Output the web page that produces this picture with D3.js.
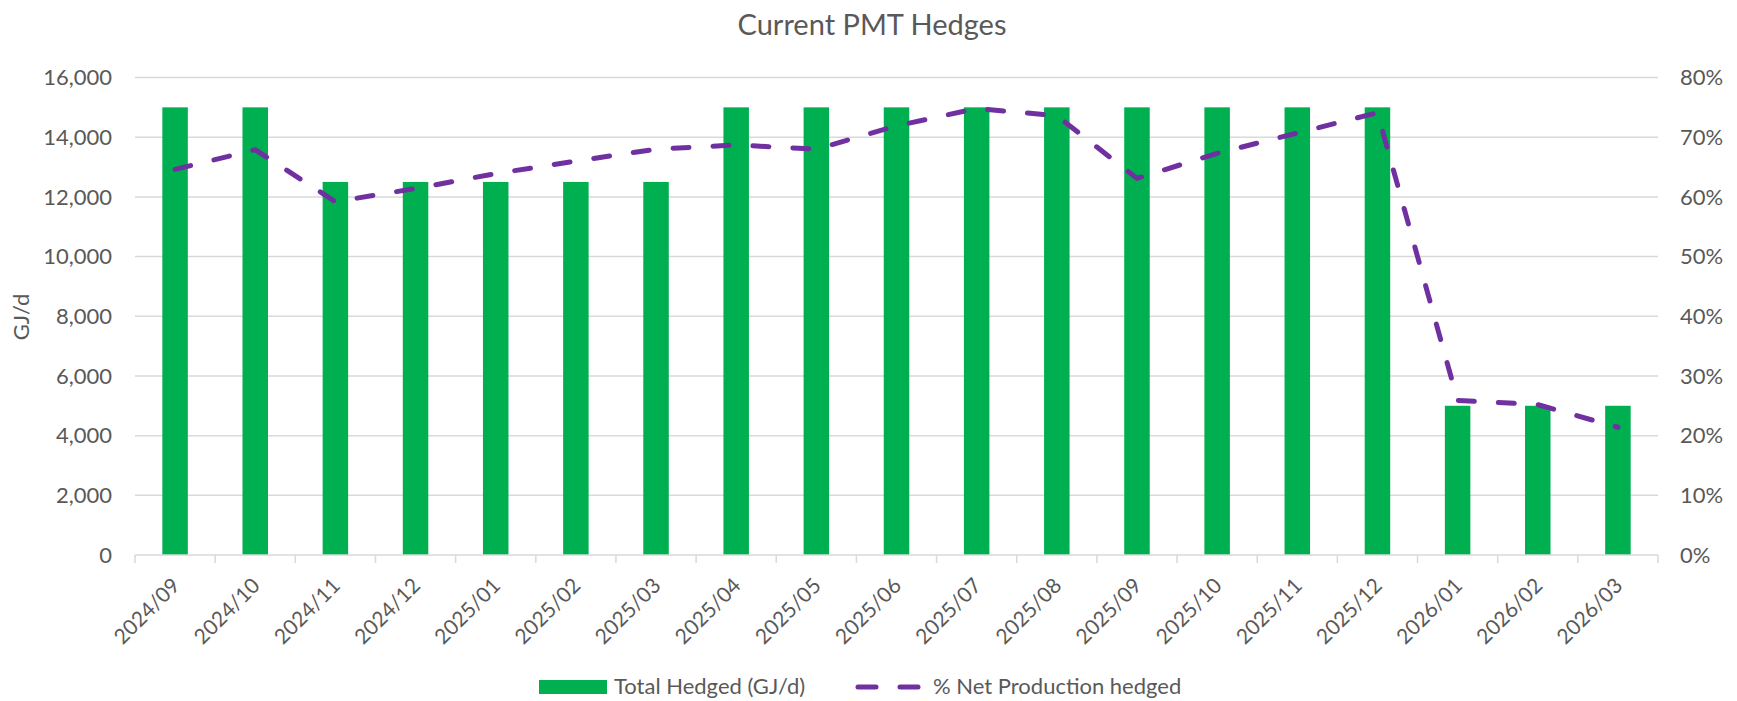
<!DOCTYPE html>
<html>
<head>
<meta charset="utf-8">
<script src="https://cdn.jsdelivr.net/npm/d3@7"></script>
<style>
  body { margin: 0; background: #fff; }
  text { font-family: Lato, "Open Sans", sans-serif; fill: #595959; }
</style>
</head>
<body>
<div id="chart"></div>
<script>
// data
var months = ["2024/09","2024/10","2024/11","2024/12","2025/01","2025/02","2025/03","2025/04","2025/05","2025/06",
              "2025/07","2025/08","2025/09","2025/10","2025/11","2025/12","2026/01","2026/02","2026/03"];
var totalHedged = [15000,15000,12500,12500,12500,12500,12500,15000,15000,15000,15000,15000,15000,15000,15000,15000,5000,5000,5000];
var pctHedged = [64.6,67.9,59.2,61.4,63.9,66.0,68.0,68.7,68.0,71.9,74.8,73.6,63.1,67.3,70.7,74.1,25.9,25.2,21.4];
var leftTicks = [0,2000,4000,6000,8000,10000,12000,14000,16000];
var rightTicks = [0,10,20,30,40,50,60,70,80];

var width = 1737, height = 701;
var plotLeft = 135, plotRight = 1658, plotTop = 77.5, plotBottom = 555;
var barColor = "#00B050", lineColor = "#7030A0", gridColor = "#d9d9d9";

var svg = d3.select("#chart").append("svg")
	.attr("width", width)
	.attr("height", height);

var x = d3.scaleBand().domain(months).range([plotLeft, plotRight]);
var yLeft = d3.scaleLinear().domain([0, 16000]).range([plotBottom, plotTop]);
var yRight = d3.scaleLinear().domain([0, 80]).range([plotBottom, plotTop]);
var barW = 25.5;

// title
svg.append("text")
	.attr("x", 872)
	.attr("y", 35)
	.style("text-anchor", "middle")
	.style("font-size", "29px")
	.text("Current PMT Hedges");

// gridlines
svg.append("g").selectAll("line")
	.data(leftTicks.filter(function(d){ return d > 0; }))
	.enter().append("line")
	.attr("x1", plotLeft).attr("x2", plotRight)
	.attr("y1", function(d){ return yLeft(d); })
	.attr("y2", function(d){ return yLeft(d); })
	.style("stroke", gridColor)
	.style("stroke-width", "1.5px");

// left axis labels
svg.append("g").selectAll("text")
	.data(leftTicks)
	.enter().append("text")
	.attr("x", plotLeft - 23)
	.attr("y", function(d){ return yLeft(d); })
	.attr("dy", "0.35em")
	.style("text-anchor", "end")
	.style("font-size", "22px")
	.text(function(d){ return d3.format(",")(d); });

// right axis labels
svg.append("g").selectAll("text")
	.data(rightTicks)
	.enter().append("text")
	.attr("x", plotRight + 22)
	.attr("y", function(d){ return yRight(d); })
	.attr("dy", "0.35em")
	.style("text-anchor", "start")
	.style("font-size", "22px")
	.text(function(d){ return d + "%"; });

// left axis title
svg.append("text")
	.attr("transform", "translate(" + 29 + "," + 317 + ") rotate(-90)")
	.style("text-anchor", "middle")
	.style("font-size", "22px")
	.text("GJ/d");

// bars
svg.append("g").selectAll("rect")
	.data(months)
	.enter().append("rect")
	.attr("x", function(d){ return x(d) + x.bandwidth()/2 - barW/2; })
	.attr("y", function(d, i){ return yLeft(totalHedged[i]); })
	.attr("width", barW)
	.attr("height", function(d, i){ return yLeft(0) - yLeft(totalHedged[i]); })
	.attr("fill", barColor);

// x axis line + ticks
svg.append("line")
	.attr("x1", plotLeft).attr("x2", plotRight)
	.attr("y1", plotBottom).attr("y2", plotBottom)
	.style("stroke", gridColor)
	.style("stroke-width", "1.5px");

var tickPos = months.map(function(d){ return x(d); }).concat([plotRight]);
svg.append("g").selectAll("line")
	.data(tickPos)
	.enter().append("line")
	.attr("x1", function(d){ return d; }).attr("x2", function(d){ return d; })
	.attr("y1", plotBottom).attr("y2", plotBottom + 8)
	.style("stroke", gridColor)
	.style("stroke-width", "1.5px");

// x labels
svg.append("g").selectAll("text")
	.data(months)
	.enter().append("text")
	.attr("transform", function(d){
		return "translate(" + (x(d) + x.bandwidth()/2 + 6) + "," + (plotBottom + 32) + ") rotate(-45)";
	})
	.style("text-anchor", "end")
	.style("font-size", "21px")
	.text(function(d){ return d; });

// % line
var line = d3.line()
	.x(function(d, i){ return x(months[i]) + x.bandwidth()/2; })
	.y(function(d){ return yRight(d); });

svg.append("path")
	.datum(pctHedged)
	.attr("d", line)
	.style("fill", "none")
	.style("stroke", lineColor)
	.style("stroke-width", "5px")
	.style("stroke-linecap", "round")
	.style("stroke-linejoin", "round")
	.style("stroke-dasharray", "16,24");

// legend
var legY = 687;
svg.append("rect")
	.attr("x", 539).attr("y", legY - 7)
	.attr("width", 68).attr("height", 14)
	.attr("fill", barColor);
svg.append("text")
	.attr("x", 614).attr("y", legY)
	.attr("dy", "0.33em")
	.style("font-size", "22px")
	.text("Total Hedged (GJ/d)");

svg.append("line")
	.attr("x1", 858).attr("x2", 922)
	.attr("y1", legY).attr("y2", legY)
	.style("stroke", lineColor)
	.style("stroke-width", "5px")
	.style("stroke-linecap", "round")
	.style("stroke-dasharray", "18,24");
svg.append("text")
	.attr("x", 933).attr("y", legY)
	.attr("dy", "0.33em")
	.style("font-size", "22px")
	.text("% Net Production hedged");
</script>
</body>
</html>
